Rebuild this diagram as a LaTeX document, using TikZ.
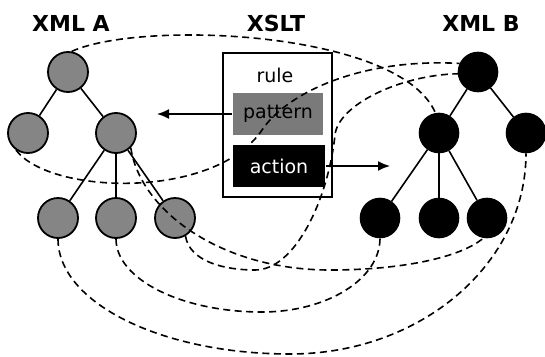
\documentclass[tikz,border=0pt]{standalone}
\usepackage{fontspec}
\setmainfont{DejaVu Sans}
\usetikzlibrary{arrows.meta}
\definecolor{srcgray}{gray}{0.52}
\definecolor{patgray}{gray}{0.48}

\begin{document}
\begin{tikzpicture}[x=1pt,y=-1pt,>={Latex[length=12pt,width=10pt]},line width=1.6pt,
        title/.style={font=\fontsize{22}{26}\selectfont\bfseries},
        txt/.style={font=\fontsize{19}{21}\selectfont,inner sep=0pt},
        src/.style={draw,circle,line width=1.8pt,fill=srcgray,minimum size=40pt,inner sep=0pt},
        tgt/.style={draw,circle,fill=black,minimum size=39pt,inner sep=0pt},
        map/.style={dash pattern=on 7pt off 4.5pt,line width=1.6pt}]
        \useasboundingbox(0,0)rectangle(545,356);
        \node(titlea)at(71,23)[title]{XML A};
        \node(titlex)at(276,23)[title]{XSLT};
        \node(titleb)at(481,23)[title]{XML B};
        \node(xslt)at(277.5,125)[draw,line width=1.8pt,minimum width=109pt,minimum height=144pt]{};
        \node(rule)at(275,75)[txt]{rule};
        \node(pattern)at(278,114)[txt,fill=patgray,minimum width=90pt,minimum height=42pt]{pattern};
        \node(action)at(279,166)[txt,fill=black,text=white,minimum width=92pt,minimum height=42pt]{action};
        \node(aroot)at(68,72)[src]{};
        \node(aleft)at(28,133)[src]{};
        \node(aright)at(116,133)[src]{};
        \node(a1)at(58,218)[src]{};
        \node(a2)at(116,218)[src]{};
        \node(a3)at(175,218)[src]{};
        \node(broot)at(478,72)[tgt]{};
        \node(bleft)at(439,133)[tgt]{};
        \node(bright)at(526,133)[tgt]{};
        \node(b1)at(380,218)[tgt]{};
        \node(b2)at(439,218)[tgt]{};
        \node(b3)at(487,218)[tgt]{};
        \coordinate(pata)at(157,114);
        \coordinate(actb)at(390,166);
        \draw(aroot)--(aleft);
        \draw(aroot)--(aright);
        \draw(aright)--(a1);
        \draw(aright)--(a2);
        \draw(aright)--(a3);
        \draw(broot)--(bleft);
        \draw(broot)--(bright);
        \draw(bleft)--(b1);
        \draw(bleft)--(b2);
        \draw(bleft)--(b3);
        \draw[->](pattern.west)--(pata);
        \draw[->](action.east)--(actb);
        % mappings
        \draw[map](aroot.80)..controls(140,20)and(400,30)..(bleft.100);
        \draw[map](aleft.-125)..controls(50,195)and(215,200)..(262,130)..controls(287,93)and(360,58)..(broot.155);
        \draw[map](a1.-90)..controls(58,303)and(162,354)..(290,354)..controls(421,354)and(526,264)..(bright.-90);
        \draw[map](a2.-90)..controls(116,279)and(181,312)..(262,312)..controls(327,312)and(380,279)..(b1.-90);
        \draw[map](aright.-45)..controls(140,210)and(220,270)..(330,270)..controls(400,270)and(460,258)..(b3.-100);
        \draw[map](a3.-60)..controls(190,262)and(225,270)..(255,270)..controls(295,270)and(328,200)..(335,135)..controls(338,105)and(400,75)..(broot.-175);
    \end{tikzpicture}
\end{document}
